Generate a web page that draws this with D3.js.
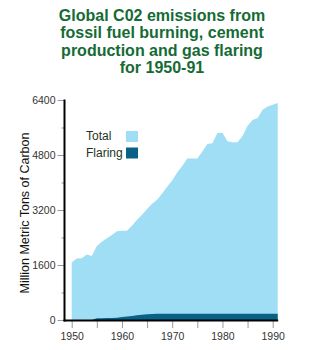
<!DOCTYPE html>
<html><head><meta charset="utf-8">
<script src="https://cdn.jsdelivr.net/npm/d3@7"></script>
<style>body{margin:0;background:#fff;}svg{display:block;font-family:"Liberation Sans",Arial,sans-serif;}</style>
</head><body>
<svg id="c" width="326" height="350"></svg>
<script>
const titleLines = ["Global C02 emissions from", "fossil fuel burning, cement", "production and gas flaring", "for 1950-91"];
const years = d3.range(1950, 1992);
const totalValues = [1670,1790,1800,1905,1860,2150,2280,2380,2470,2580,2600,2600,2740,2920,3060,3230,3380,3500,3680,3880,4060,4290,4480,4700,4700,4700,4900,5120,5140,5440,5450,5200,5170,5170,5350,5650,5820,5880,6120,6210,6260,6310];
const flaringValues = [0,0,0,0,0,50,50,55,60,65,85,100,120,140,155,165,175,185,185,185,185,185,185,185,185,185,185,185,185,185,185,185,185,185,185,185,185,185,185,185,185,185];
const yMajorTicks = [0,1600,3200,4800,6400];
const yMinorTicks = [800,2400,4000,5600];
const xTicks = [1950,1955,1960,1965,1970,1975,1980,1985,1990];
const xLabelTicks = [1950,1960,1970,1980,1990];
const legendItems = ["Total","Flaring"];

const svg = d3.select("#c");
const x = d3.scaleLinear().domain([1950,1990]).range([71.7,272.7]);
const y = d3.scaleLinear().domain([0,6400]).range([320,100]);
const totalColor = "#a0def6", flaringColor = "#0a6186";

// Title
svg.append("text").attr("x",162).attr("y",21)
  .attr("text-anchor","middle").attr("fill","#156b35")
  .style("font-weight","bold").style("font-size","16px")
  .selectAll("tspan").data(titleLines).join("tspan")
  .attr("x",162).attr("dy",(d,i)=>i===0?0:17.3).text(d=>d);

const total = years.map((yr,i)=>({yr,v:totalValues[i]}));
const flaring = years.map((yr,i)=>({yr,v:flaringValues[i]}));
const area = d3.area().x(d=>x(d.yr)).y0(y(0)).y1(d=>y(d.v));
svg.append("path").datum(total).attr("d",area).attr("fill",totalColor);
svg.append("path").datum(flaring).attr("d",area).attr("fill",flaringColor);

// Y axis
const yAxis = d3.axisLeft(y).tickValues(yMajorTicks).tickSize(7).tickPadding(2).tickFormat(d3.format("d"));
const gy = svg.append("g").attr("transform","translate(64.5,0)").call(yAxis);
gy.select(".domain").remove();
gy.selectAll(".tick line").attr("stroke","#999");
gy.selectAll(".tick text").attr("fill","#333").style("font-size","10.5px").style("font-family","'Liberation Sans',Arial,sans-serif");
const gyMinor = svg.append("g").attr("transform","translate(64.5,0)")
  .call(d3.axisLeft(y).tickValues(yMinorTicks).tickSize(3).tickFormat(""));
gyMinor.select(".domain").remove();
gyMinor.selectAll(".tick line").attr("stroke","#999");

// X axis
const xAxis = d3.axisBottom(x).tickValues(xTicks).tickSize(7).tickPadding(5)
  .tickFormat(d=>xLabelTicks.includes(d)?String(d):"");
const gx = svg.append("g").attr("transform","translate(0,321)").call(xAxis);
gx.select(".domain").remove();
gx.selectAll(".tick line").attr("stroke","#999");
gx.selectAll(".tick text").attr("fill","#333").style("font-size","10.5px").style("font-family","'Liberation Sans',Arial,sans-serif");

// axis lines
svg.append("line").attr("x1",64.5).attr("x2",64.5).attr("y1",y(6400)-0.5).attr("y2",321.5).attr("stroke","#000").attr("stroke-width",2);
svg.append("line").attr("x1",63.5).attr("x2",x(1991)+0.5).attr("y1",320.5).attr("y2",320.5).attr("stroke","#000").attr("stroke-width",2);

// Y title
svg.append("text").attr("transform","translate(29,213) rotate(-90)")
  .attr("text-anchor","middle").attr("fill","#111").style("font-size","12.5px")
  .text("Million Metric Tons of Carbon");

// Legend
const lg = svg.append("g");
legendItems.forEach((name,i)=>{
  lg.append("text").attr("x",86).attr("y",140+i*16.5).attr("fill","#1e3324").style("font-size","12px").text(name);
  lg.append("rect").attr("x",126).attr("y",131+i*16.5).attr("width",12).attr("height",11)
    .attr("fill",i===0?totalColor:flaringColor);
});
</script>
</body></html>
